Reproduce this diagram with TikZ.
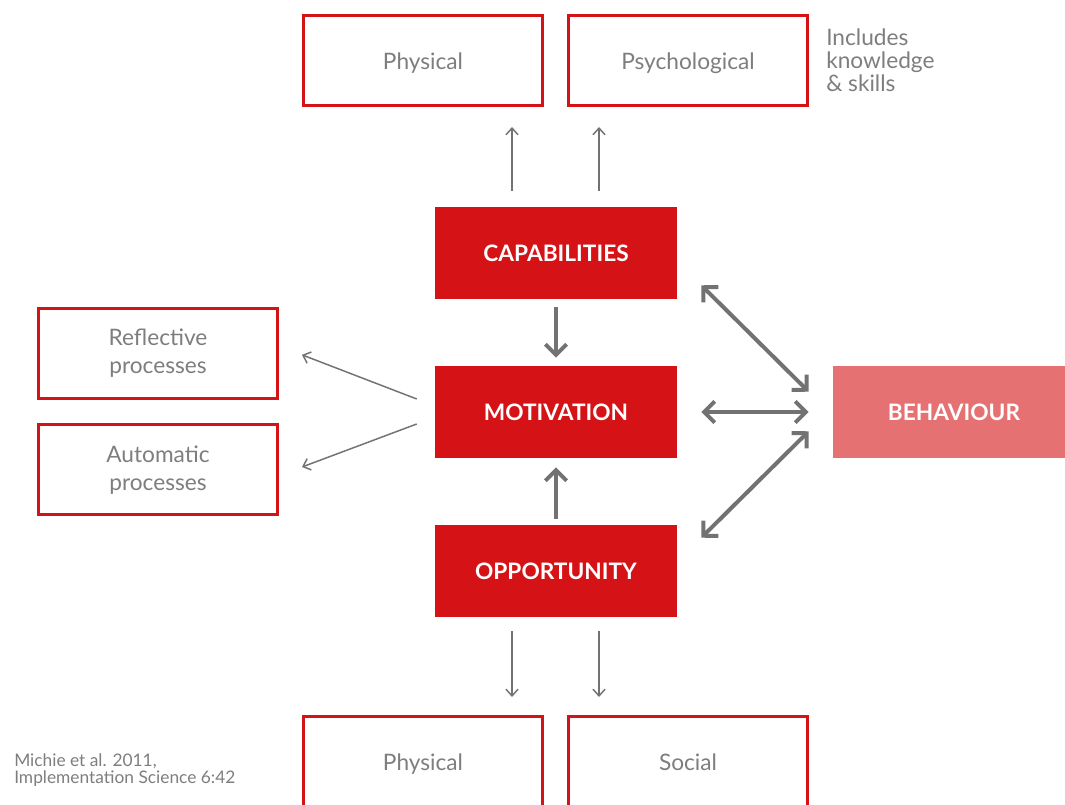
\documentclass[tikz,border=0pt]{standalone}
\usepackage{fontspec}
\setmainfont{Lato}
\usetikzlibrary{arrows.meta}
\definecolor{cbred}{HTML}{D51317}
\definecolor{cbpink}{HTML}{E67173}
\definecolor{cbtext}{HTML}{7E7E7E}
\definecolor{cbarrow}{HTML}{727272}
\begin{document}
\begin{tikzpicture}[x=0.75pt,y=-0.75pt,
  outlinebox/.style={draw=cbred, line width=2.25pt, fill=white,
    minimum width=179.25pt, minimum height=67.5pt, inner sep=0pt,
    text=cbtext, font=\fontsize{17}{21}\selectfont, align=center},
  oneline/.style={text height=14pt, text depth=0pt},
  filledbox/.style={fill=cbred, draw=none, minimum width=181.5pt,
    minimum height=69pt, inner sep=0pt, text=white,
    font=\fontsize{17}{20}\selectfont\bfseries},
  thinarrow/.style={draw=cbarrow, line width=1.1pt,
    -{Straight Barb[length=5pt,width=9pt]}},
  thickarrow/.style={draw=cbarrow, line width=3pt,
    -{Straight Barb[length=8pt,width=16pt]}},
  thickdouble/.style={draw=cbarrow, line width=3pt,
    {Straight Barb[length=8pt,width=16pt]}-{Straight Barb[length=8pt,width=16pt]}},
  notetext/.style={text=cbtext, inner sep=0pt, align=left}
]
\clip (0,0) rectangle (1065,805);
\fill[white] (0,0) rectangle (1065,805);

% top boxes
\node[outlinebox, oneline] (cphys) at (423,60.5) {Physical};
\node[outlinebox, oneline] (cpsych) at (688,60.5) {Psychological};
\node[notetext, anchor=base west, font=\fontsize{17}{17.25}\selectfont] (incl) at (826,92) {Includes\\knowledge\\\& skills};

% central boxes
\node[filledbox] (cap) at (556,253) {CAPABILITIES};
\node[filledbox] (mot) at (556,412) {MOTIVATION};
\node[filledbox] (opp) at (556,571) {OPPORTUNITY};
\node[filledbox, fill=cbpink] (beh) at (954,412) {BEHAVIOUR};

% left boxes
\node[outlinebox] (refl) at (158,353.5) {Reflective\\processes};
\node[outlinebox] (auto) at (158,470) {Automatic\\processes};

% bottom boxes
\node[outlinebox, oneline] (ophys) at (423,761.5) {Physical};
\node[outlinebox, oneline] (osoc) at (688,761.5) {Social};

% citation
\node[notetext, anchor=base west, font=\fontsize{13}{12.75}\selectfont] (cite) at (14,783) {Michie et al. 2011,\\Implementation Science 6:42};

% thin arrows up
\draw[thinarrow] ([xshift=-33pt,yshift=12pt]cap.north) -- ([xshift=-33pt,yshift=-15pt]cap.north |- cphys.south);
\draw[thinarrow] ([xshift=32.25pt,yshift=12pt]cap.north) -- ([xshift=32.25pt,yshift=-15pt]cap.north |- cpsych.south);

% thin arrows down
\draw[thinarrow] ([xshift=-33pt,yshift=-10.5pt]opp.south) -- ([xshift=-33pt,yshift=13.5pt]opp.south |- ophys.north);
\draw[thinarrow] ([xshift=32.25pt,yshift=-10.5pt]opp.south) -- ([xshift=32.25pt,yshift=13.5pt]opp.south |- osoc.north);

% thin arrows left
\draw[thinarrow] ([xshift=-13.5pt,yshift=9.75pt]mot.west) -- ([xshift=17.25pt,yshift=-1pt]refl.east);
\draw[thinarrow] ([xshift=-13.5pt,yshift=-9pt]mot.west) -- ([xshift=17.25pt,yshift=2.25pt]auto.east);

% thick vertical arrows
\draw[thickarrow, shorten <=6pt, shorten >=6pt] (cap.south) -- (mot.north);
\draw[thickarrow, shorten <=4.5pt, shorten >=6.75pt] (opp.north) -- (mot.south);

% thick double arrows
\draw[thickdouble] ([xshift=18pt,yshift=10.5pt]cap.south east) -- ([xshift=-18pt,yshift=-19.5pt]beh.north west);
\draw[thickdouble, shorten <=18pt, shorten >=18pt] (mot.east) -- (mot.east -| beh.west);
\draw[thickdouble] ([xshift=18pt,yshift=-9.75pt]opp.north east) -- ([xshift=-18pt,yshift=20.25pt]beh.south west);
\end{tikzpicture}
\end{document}
